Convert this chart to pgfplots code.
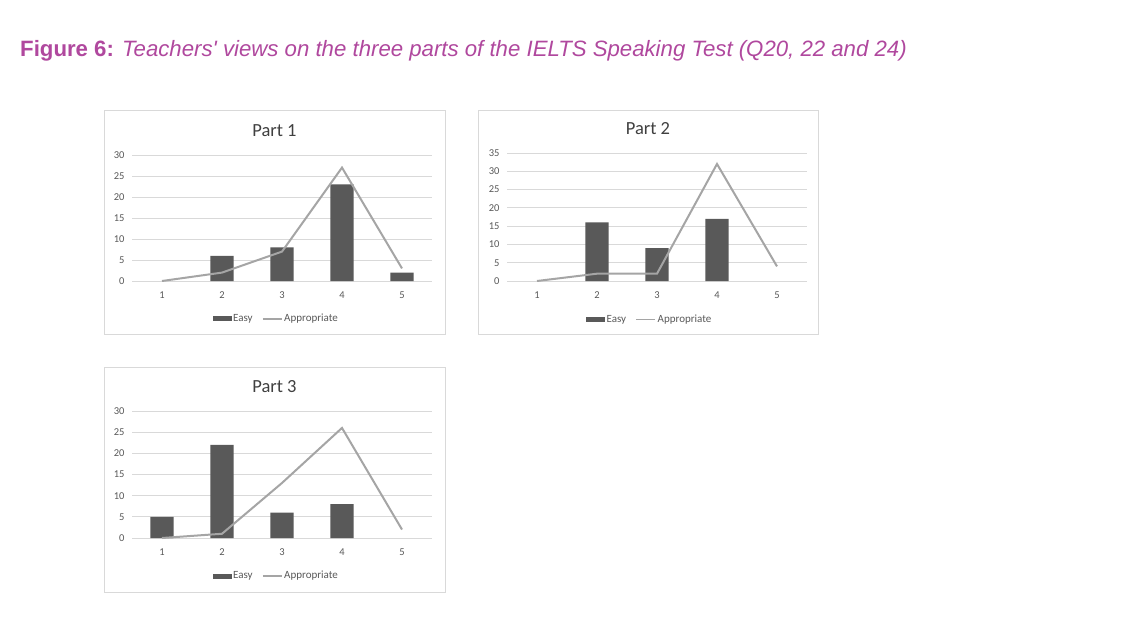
\documentclass[border=0pt]{standalone}
\usepackage{pgfplots}
\pgfplotsset{compat=1.18}
\usepackage{fontspec}
\setmainfont{Carlito}
\newfontfamily\titlefont{Liberation Sans}
\definecolor{barc}{HTML}{595959}
\definecolor{linec}{HTML}{A5A5A5}
\definecolor{gridc}{HTML}{D9D9D9}
\definecolor{figc}{HTML}{B0489E}
\definecolor{titc}{HTML}{404040}

\pgfplotsset{
  panel/.style={
    scale only axis,
    width=300pt,
    xmin=0.5, xmax=5.5,
    ymin=0,
    xtick={1,2,3,4,5},
    axis line style={draw=none},
    major tick length=0pt,
    ymajorgrids=true,
    grid style={gridc, line width=0.9pt},
    tick label style={font=\fontsize{10.5}{12}\selectfont, text=barc},
    /pgf/number format/assume math mode=true,
    yticklabel style={xshift=-4pt},
    xticklabel style={yshift=-7pt},
    legend columns=2,
    legend style={draw=none, fill=none, at={(0.48,-0.30)}, anchor=center,
      font=\fontsize{11}{12}\selectfont, text=barc,
      nodes={text height=1.6ex, text depth=0.45ex, inner xsep=1.5pt},
      /tikz/every even column/.append style={column sep=8pt}},
    clip=false,
  },
  easy/.style={ybar, bar width=0.39, bar shift=0pt, fill=barc, draw=none,
    legend image code/.code={\path[draw=none, fill=none] (0pt,-3pt) rectangle (19pt,3pt);
      \fill[barc] (0pt,-2.5pt) rectangle (19pt,2.5pt);}},
  appr/.style={sharp plot, linec, line width=2pt, no markers,
    legend image code/.code={\path[draw=none, fill=none] (0pt,-3pt) rectangle (19pt,3pt);
      \draw[linec, line width=1.6pt] (0pt,0pt) -- (19pt,0pt);}},
}

\begin{document}
\begin{tikzpicture}[x=1pt, y=1pt]
  \fill[white] (0,0) rectangle (1125,630);

  % figure caption
  \node[anchor=base west, inner sep=0pt, text=figc] at (20,573)
    {\titlefont\fontsize{22.2}{24}\selectfont\textbf{Figure 6:} \itshape Teachers' views on the three parts of the IELTS Speaking Test (Q20, 22 and 24)};

  % panel frames
  \draw[gridc, line width=1pt] (104,295) rectangle (445,519);
  \draw[gridc, line width=1pt] (478,295) rectangle (818,519);
  \draw[gridc, line width=1pt] (104,38) rectangle (445,262);

  % Part 1 (no bar for a zero count)
  \begin{axis}[panel, at={(132pt,349pt)}, anchor=south west, height=126pt,
      ymax=30, ytick={0,5,...,30}]
    \addplot[easy] coordinates {(2,6) (3,8) (4,23) (5,2)};
    \addlegendentry{Easy}
    \addplot[appr] coordinates {(1,0) (2,2) (3,7) (4,27) (5,3)};
    \addlegendentry{Appropriate}
  \end{axis}
  \node[font=\fontsize{18.5}{20}\selectfont, text=titc] at (274.5,499) {Part 1};

  % Part 2
  \begin{axis}[panel, at={(507pt,349pt)}, anchor=south west, height=128pt,
      ymax=35, ytick={0,5,...,35}, legend style={at={(0.475,-0.30)}}]
    \addplot[easy] coordinates {(2,16) (3,9) (4,17)};
    \addlegendentry{Easy}
    \addplot[appr] coordinates {(1,0) (2,2) (3,2) (4,32) (5,4)};
    \addlegendentry{Appropriate}
  \end{axis}
  \node[font=\fontsize{18.5}{20}\selectfont, text=titc] at (648,501) {Part 2};

  % Part 3
  \begin{axis}[panel, at={(132pt,92pt)}, anchor=south west, height=127pt,
      ymax=30, ytick={0,5,...,30}]
    \addplot[easy] coordinates {(1,5) (2,22) (3,6) (4,8)};
    \addlegendentry{Easy}
    \addplot[appr] coordinates {(1,0) (2,1) (3,13) (4,26) (5,2)};
    \addlegendentry{Appropriate}
  \end{axis}
  \node[font=\fontsize{18.5}{20}\selectfont, text=titc] at (274.5,243) {Part 3};
\end{tikzpicture}
\end{document}
